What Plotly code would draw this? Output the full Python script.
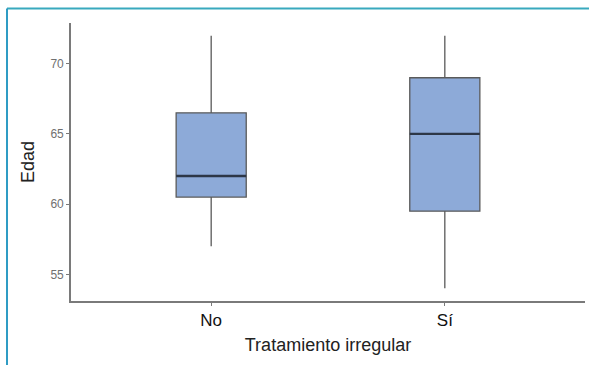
import plotly.graph_objects as go

# Age by irregular-treatment group: box-plot summary statistics
categories = ["No", "Sí"]
positions = [1, 2]
lower_whisker = [57, 54]
q1 = [60.5, 59.5]
median = [62, 65]
q3 = [66.5, 69]
upper_whisker = [72, 72]

y_ticks = [55, 60, 65, 70]
box_width = 0.3

fig = go.Figure()

fig.add_trace(go.Box(
    x=positions,
    q1=q1,
    median=median,
    q3=q3,
    lowerfence=lower_whisker,
    upperfence=upper_whisker,
    width=box_width,
    whiskerwidth=0,
    fillcolor="#8DAAD8",
    line=dict(color="#5a5a5a", width=1.3),
    boxpoints=False,
    hoverinfo="skip",
    showlegend=False,
))

# Thicker median bars drawn over each box
for p, m in zip(positions, median):
    fig.add_trace(go.Scatter(
        x=[p - box_width / 2, p + box_width / 2],
        y=[m, m],
        mode="lines",
        line=dict(color="#2d3747", width=2.4),
        hoverinfo="skip",
        showlegend=False,
    ))

axis_line = "#7a7a7a"

fig.update_layout(
    width=589,
    height=365,
    margin=dict(l=71, r=4, t=23, b=64),
    paper_bgcolor="white",
    plot_bgcolor="white",
    font=dict(family="Liberation Sans, Arial, sans-serif", color="#222"),
    xaxis=dict(
        range=[0.4, 2.6],
        tickmode="array",
        tickvals=positions,
        ticktext=categories,
        showgrid=False,
        zeroline=False,
        showline=True,
        linecolor=axis_line,
        linewidth=1.6,
        ticks="outside",
        ticklen=3,
        tickcolor=axis_line,
        tickfont=dict(size=17, color="#111"),
        title=dict(text="Tratamiento irregular", font=dict(size=18, color="#222"), standoff=9),
    ),
    yaxis=dict(
        range=[53.1, 72.9],
        tickmode="array",
        tickvals=y_ticks,
        showgrid=False,
        zeroline=False,
        showline=True,
        linecolor=axis_line,
        linewidth=1.6,
        ticks="outside",
        ticklen=3,
        tickcolor=axis_line,
        tickfont=dict(size=12, color="#707070"),
        title=dict(text="Edad", font=dict(size=18, color="#222"), standoff=11),
    ),
    shapes=[
        # frame lines around the figure (top and left)
        dict(type="line", xref="paper", yref="paper",
             x0=-0.1245, x1=1.01, y0=1.052, y1=1.052,
             line=dict(color="#38a9be", width=2)),
        dict(type="line", xref="paper", yref="paper",
             x0=-0.1245, x1=-0.1245, y0=1.052, y1=-0.25,
             line=dict(color="#2f9cc4", width=2)),
    ],
)

fig.write_html("out.html")
